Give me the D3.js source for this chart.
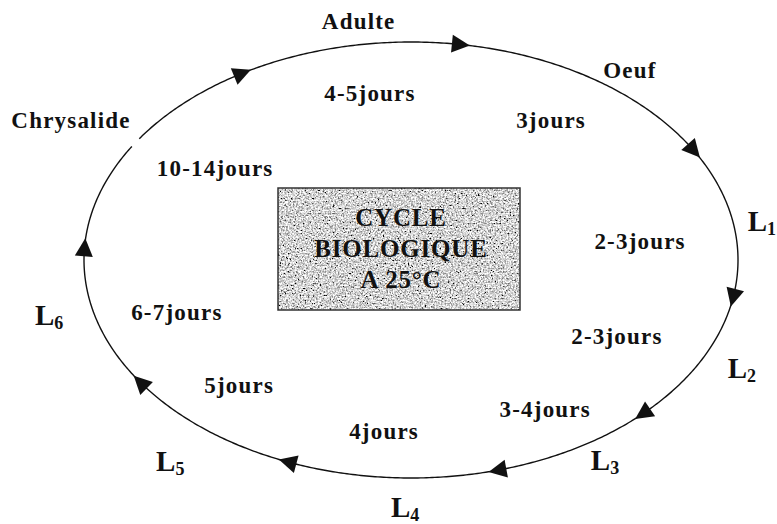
<!DOCTYPE html>
<html>
<head>
    <meta charset="utf-8">
    <title>Cycle biologique</title>
    <script src="https://cdn.jsdelivr.net/npm/d3@7"></script>
    <style>
        body { margin: 0; background: #fff; }
        text { font-family: "Liberation Serif", "Times New Roman", serif; font-weight: bold; fill: #111; }
    </style>
</head>
<body>
    <div id="chart"></div>
    <script>
        // stages around the cycle (angle in degrees on the ellipse, radius relative to it)
        var stages = ["Adulte", "Oeuf", "L1", "L2", "L3", "L4", "L5", "L6", "Chrysalide"];
        var stageAngle = [-98.3, -52.5, -9.5, 25.9, 57.1, 90.9, 128.6, 167.2, -148.3];
        var stageRadius = [1.108, 1.100, 1.088, 1.125, 1.092, 1.132, 1.180, 1.135, 1.222];

        // durations written inside the ring
        var durations = ["4-5jours", "3jours", "2-3jours", "2-3jours", "3-4jours", "4jours", "5jours", "6-7jours", "10-14jours"];
        var durationAngle = [-99.3, -56.3, -7.1, 29.0, 59.0, 96.0, 132.5, 161.5, -144.8];
        var durationRadius = [0.776, 0.772, 0.706, 0.720, 0.797, 0.789, 0.778, 0.755, 0.733];

        // arrow heads along the ring, and the small break near "Chrysalide"
        var arrowAngle = [-81.4, -30.3, 9.7, 44.7, 74.5, 112, 145.7, 183.1, 238.8];
        var ringGap = [211.4, 213.8];

        var titleLines = ["CYCLE", "BIOLOGIQUE", "A 25°C"];

        var width = 777, height = 524;
        var cx = 411, cy = 260, rx = 327, ry = 218;

        var x = d3.scaleLinear().domain([-1, 1]).range([cx - rx, cx + rx]);
        var y = d3.scaleLinear().domain([-1, 1]).range([cy - ry, cy + ry]);
        var rad = function(deg) { return deg * Math.PI / 180; };
        var px = function(a, r) { return x(r * Math.cos(rad(a))); };
        var py = function(a, r) { return y(r * Math.sin(rad(a))); };

        var svg = d3.select("#chart").append("svg")
            .attr("width", width)
            .attr("height", height);

        // grainy grey fill for the title box
        var defs = svg.append("defs");
        var f = defs.append("filter").attr("id", "noise")
            .attr("x", 0).attr("y", 0).attr("width", "100%").attr("height", "100%");
        f.append("feTurbulence")
            .attr("type", "fractalNoise")
            .attr("baseFrequency", 0.6)
            .attr("numOctaves", 3)
            .attr("seed", 4)
            .attr("result", "t");
        f.append("feColorMatrix")
            .attr("in", "t")
            .attr("type", "matrix")
            .attr("values", "1.2 1.2 1.2 0 -1.15  1.2 1.2 1.2 0 -1.15  1.2 1.2 1.2 0 -1.15  0 0 0 0 1")
            .attr("result", "g");
        f.append("feComposite").attr("in", "g").attr("in2", "SourceGraphic").attr("operator", "in");

        // ring, drawn from the end of the gap all the way round to its start
        var ts = d3.range(ringGap[1], ringGap[0] + 360, 0.5).concat([ringGap[0] + 360]);
        var ring = d3.line()
            .x(function(t) { return px(t, 1); })
            .y(function(t) { return py(t, 1); });

        svg.append("path")
            .datum(ts)
            .attr("fill", "none")
            .attr("stroke", "#111")
            .attr("stroke-width", 1.4)
            .attr("d", ring);

        // arrow heads, pointing along the tangent (clockwise)
        svg.selectAll(".arrow")
            .data(arrowAngle)
            .enter().append("path")
            .attr("class", "arrow")
            .attr("fill", "#111")
            .attr("d", function(a) {
                var t = rad(a);
                var p = [px(a, 1), py(a, 1)];
                var dx = -rx * Math.sin(t), dy = ry * Math.cos(t);
                var len = Math.sqrt(dx * dx + dy * dy);
                dx /= len; dy /= len;
                var nx = -dy, ny = dx;
                var tip = [p[0] + dx * 10, p[1] + dy * 10];
                var b = [p[0] - dx * 8, p[1] - dy * 8];
                return "M" + tip + "L" + [b[0] + nx * 9, b[1] + ny * 9] +
                    "L" + [b[0] - nx * 9, b[1] - ny * 9] + "Z";
            });

        // title box
        var box = svg.append("g");
        box.append("rect")
            .attr("x", 278).attr("y", 188)
            .attr("width", 242).attr("height", 122)
            .attr("fill", "#999")
            .attr("filter", "url(#noise)");
        box.append("rect")
            .attr("x", 278).attr("y", 188)
            .attr("width", 242).attr("height", 122)
            .attr("fill", "none")
            .attr("stroke", "#333")
            .attr("stroke-width", 1.5);
        box.selectAll("text")
            .data(titleLines)
            .enter().append("text")
            .attr("x", 401)
            .attr("y", function(d, i) { return 226 + i * 31; })
            .attr("text-anchor", "middle")
            .style("font-size", "25px")
            .style("letter-spacing", "0.8px")
            .text(function(d) { return d; });

        // stage names (larval stages get a subscript)
        var st = svg.selectAll(".stage")
            .data(stages)
            .enter().append("text")
            .attr("class", "stage")
            .attr("x", function(d, i) { return px(stageAngle[i], stageRadius[i]); })
            .attr("y", function(d, i) { return py(stageAngle[i], stageRadius[i]); })
            .attr("dy", function(d) { return d.length == 2 ? "0.36em" : "0.34em"; })
            .attr("text-anchor", "middle")
            .style("font-size", function(d) { return d.length == 2 ? "29px" : "23px"; })
            .style("letter-spacing", function(d) { return d.length == 2 ? "0px" : "1.2px"; });
        st.each(function(d) {
            var t = d3.select(this);
            if (d.length == 2) {
                t.append("tspan").text(d[0]);
                t.append("tspan").attr("dy", 4).style("font-size", "18px").text(d[1]);
            } else {
                t.text(d);
            }
        });

        // durations
        svg.selectAll(".dur")
            .data(durations)
            .enter().append("text")
            .attr("class", "dur")
            .attr("x", function(d, i) { return px(durationAngle[i], durationRadius[i]); })
            .attr("y", function(d, i) { return py(durationAngle[i], durationRadius[i]); })
            .attr("dy", "0.34em")
            .attr("text-anchor", "middle")
            .style("font-size", "23px")
            .style("letter-spacing", "1.2px")
            .text(function(d) { return d; });
    </script>
</body>
</html>
